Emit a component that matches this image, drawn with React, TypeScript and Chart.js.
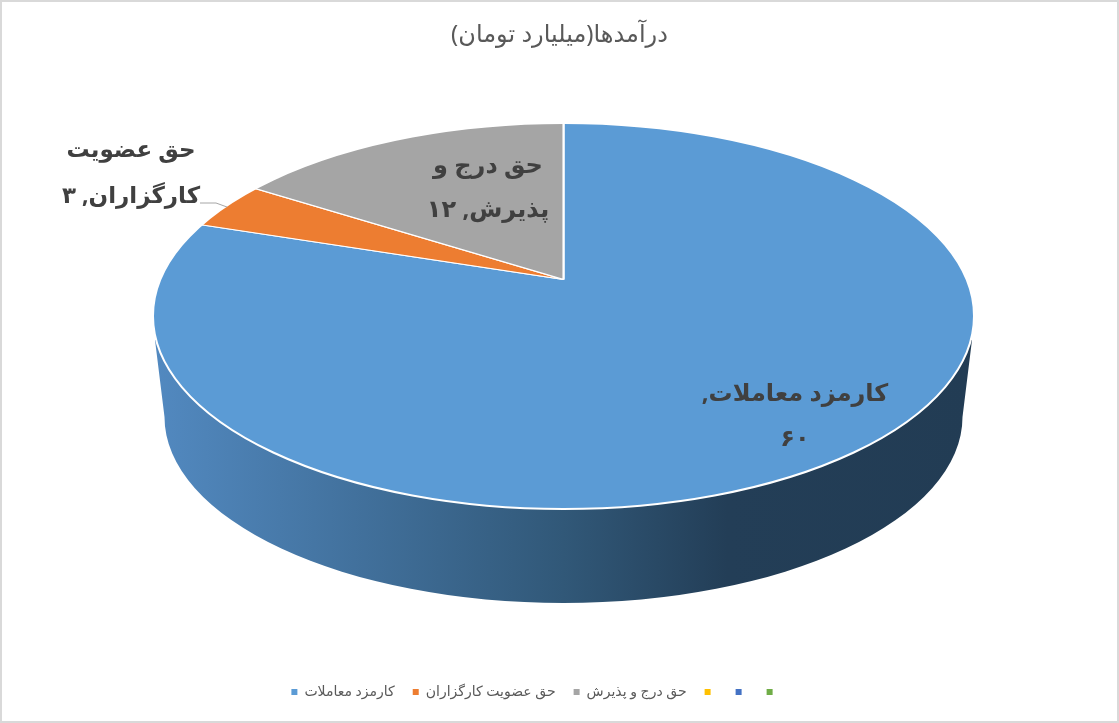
import React, { useEffect, useRef } from "react";
import { Chart, registerables } from "chart.js";

Chart.register(...registerables);

const titleText = "درآمدها(میلیارد تومان)";
const categories = ["کارمزد معاملات", "حق عضویت کارگزاران", "حق درج و پذیرش", "", "", ""];
const values = [60, 3, 12, 0, 0, 0];
const colors = ["#5b9bd5", "#ed7d31", "#a5a5a5", "#ffc000", "#4472c4", "#70ad47"];

const fontFamily = "'Noto Sans', 'DejaVu Sans', sans-serif";

// hand placed data labels, wrapped like the original
const dataLabels = [
  { lines: ["کارمزد معاملات,", "۶۰"], x: 795, y: [394, 439], size: 24 },
  { lines: ["حق عضویت", "کارگزاران, ۳"], x: 131, y: [150, 196], size: 23 },
  { lines: ["حق درج و", "پذیرش, ۱۲"], x: 488, y: [166, 210], size: 24 },
];

// geometry of the tilted disc
const top = { x: 563.5, y: 316, rx: 410.5, ry: 193 };
const bottom = { x: 563.5, y: 417, rx: 399, ry: 186 };
const vertex = { x: 563.5, y: 279.5 };
const tilt = 0.465;
const reach = 640;
const legendShift = 24;

const discPlugin: any = {
  id: "disc",
  afterLayout(chart: any) {
    // the legend sits left of the page centre in the original
    chart.legend.left -= legendShift;
    chart.legend.right -= legendShift;
  },
  beforeDraw(chart: Chart) {
    const { ctx, width, height } = chart;
    ctx.save();
    ctx.fillStyle = "#ffffff";
    ctx.fillRect(0, 0, width, height);
    ctx.strokeStyle = "#d9d9d9";
    ctx.lineWidth = 2;
    ctx.strokeRect(1, 1, width - 2, height - 2);
    ctx.restore();
  },
  beforeDatasetsDraw(chart: Chart) {
    const { ctx } = chart;
    // side wall
    const grad = ctx.createLinearGradient(155, 0, 972, 0);
    grad.addColorStop(0, "#5289c0");
    grad.addColorStop(0.5, "#315878");
    grad.addColorStop(0.7, "#233e57");
    grad.addColorStop(1, "#223c54");
    ctx.save();
    ctx.fillStyle = grad;
    ctx.beginPath();
    ctx.moveTo(155, 340);
    ctx.lineTo(bottom.x - bottom.rx, bottom.y);
    ctx.ellipse(bottom.x, bottom.y, bottom.rx, bottom.ry, 0, Math.PI, 0, true);
    ctx.lineTo(972, 340);
    ctx.closePath();
    ctx.fill();
    ctx.restore();

    const arc: any = chart.getDatasetMeta(0).data[0];
    const k = reach / arc.outerRadius;
    ctx.save();
    ctx.beginPath();
    ctx.ellipse(top.x, top.y, top.rx, top.ry, 0, 0, Math.PI * 2);
    ctx.clip();
    ctx.translate(vertex.x, vertex.y);
    ctx.scale(k, k * tilt);
    ctx.translate(-arc.x, -arc.y);
  },
  afterDatasetsDraw(chart: Chart) {
    const { ctx } = chart;
    ctx.restore();
    ctx.save();
    ctx.strokeStyle = "#ffffff";
    ctx.lineWidth = 2;
    ctx.beginPath();
    ctx.ellipse(top.x, top.y, top.rx, top.ry, 0, 0, Math.PI * 2);
    ctx.stroke();

    // leader line of the orange slice
    ctx.strokeStyle = "#a6a6a6";
    ctx.lineWidth = 1;
    ctx.beginPath();
    ctx.moveTo(200, 203);
    ctx.lineTo(216, 203);
    ctx.lineTo(227, 207);
    ctx.stroke();

    ctx.fillStyle = "#404040";
    ctx.textAlign = "center";
    ctx.textBaseline = "middle";
    dataLabels.forEach((l) => {
      ctx.font = `bold ${l.size}px ${fontFamily}`;
      l.lines.forEach((line, i) => ctx.fillText(line, l.x, l.y[i]));
    });
    ctx.restore();
  },
};

export default function App() {
  const canvas = useRef<HTMLCanvasElement>(null);
  useEffect(() => {
    const defaultLabels = (Chart as any).overrides.doughnut.plugins.legend.labels.generateLabels;
    const chart = new Chart(canvas.current, {
      type: "pie",
      data: {
        labels: categories,
        datasets: [{
          data: values,
          backgroundColor: colors,
          borderColor: "#ffffff",
          borderWidth: [1, 1, 1, 0, 0, 0],
          clip: false,
        }],
      },
      options: {
        responsive: false,
        animation: false,
        devicePixelRatio: 1,
        layout: { padding: { bottom: 14 } },
        plugins: {
          tooltip: { enabled: false },
          title: {
            display: true,
            text: titleText,
            color: "#595959",
            font: { family: fontFamily, size: 24, weight: "normal" },
            padding: { top: 21, bottom: 10 },
          },
          legend: {
            position: "bottom",
            labels: {
              boxWidth: 6,
              boxHeight: 6,
              padding: 18,
              color: "#595959",
              font: { family: fontFamily, size: 14 },
              generateLabels: (c: Chart) =>
                defaultLabels(c).map((l: any) => ({ ...l, lineWidth: 0 })),
            },
          },
        },
      },
      plugins: [discPlugin],
    } as any);
    return () => chart.destroy();
  }, []);

  return (
    <div style={{ position: "fixed", left: 0, top: 0 }}>
      <canvas ref={canvas} width={1119} height={723} dir="rtl"
        style={{ display: "block", direction: "rtl" }} />
    </div>
  );
}
